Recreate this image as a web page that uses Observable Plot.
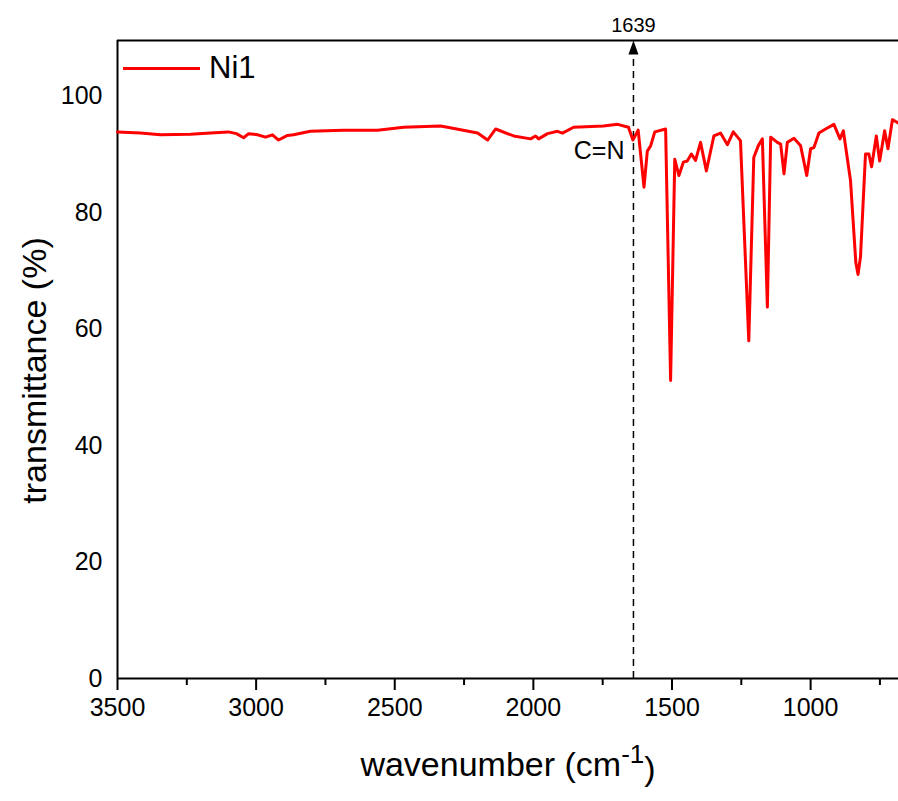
<!DOCTYPE html>
<html>
<head>
<meta charset="utf-8">
<script src="https://cdn.jsdelivr.net/npm/d3@7"></script>
<script src="https://cdn.jsdelivr.net/npm/@observablehq/plot@0.6"></script>
<style>
  html, body { margin: 0; padding: 0; background: #fff; overflow: hidden; }
  #wrap { position: relative; width: 898px; height: 801px; font-family: "Liberation Sans", Arial, sans-serif; }
  #legend { position: absolute; left: 123px; top: 50px; display: flex; align-items: center; font-size: 31px; color: #000; }
  #legend .swatch { width: 77px; height: 3px; background: #ff0000; margin-right: 9px; }
</style>
</head>
<body>
<div id="wrap"><div id="legend"><div class="swatch"></div><span>Ni1</span></div></div>
<script>
// ---- data ----
const seriesName = "Ni1";
const wavenumber = [
  3500, 3417, 3345, 3237, 3165, 3100, 3071, 3045, 3027, 2995, 2966, 2941, 2919, 2887, 2865, 2804,
  2685, 2562, 2468, 2335, 2310, 2201, 2165, 2136, 2071, 2010, 1992, 1981, 1949, 1913, 1895, 1855,
  1747, 1696, 1657, 1641, 1622, 1601, 1589, 1577, 1562, 1523, 1505, 1490, 1475, 1459, 1445, 1430,
  1415, 1397, 1376, 1349, 1325, 1300, 1279, 1253, 1223, 1205, 1189, 1174, 1156, 1144, 1120, 1108,
  1096, 1084, 1060, 1036, 1014, 1000, 988, 970, 946, 916, 894, 882, 856, 837, 829, 820, 802, 790,
  780, 763, 751, 733, 721, 705, 690, 683
];
const transmittance = [
  93.9, 93.7, 93.4, 93.5, 93.7, 93.9, 93.6, 92.9, 93.6, 93.4, 93.0, 93.4, 92.5, 93.3, 93.4, 94.0,
  94.2, 94.2, 94.7, 94.9, 94.7, 93.7, 92.5, 94.4, 93.2, 92.7, 93.2, 92.7, 93.6, 94.0, 93.7, 94.7,
  94.9, 95.2, 94.7, 92.5, 94.2, 84.4, 90.6, 91.5, 93.9, 94.4, 51.2, 89.2, 86.4, 88.7, 88.9, 90.1,
  89.0, 92.1, 87.2, 93.2, 93.7, 91.7, 93.9, 92.4, 58.0, 89.5, 91.5, 92.7, 63.8, 93.0, 92.1, 91.8,
  86.7, 92.1, 92.8, 91.5, 86.4, 91.0, 91.2, 93.7, 94.4, 95.2, 92.7, 94.1, 85.5, 71.5, 69.4, 72.5, 90.1, 90.1,
  87.9, 93.2, 88.9, 94.1, 91.0, 96.0, 95.6, 95.4
];
const xTicks = [3500, 3000, 2500, 2000, 1500, 1000];
const xMinorTicks = [3250, 2750, 2250, 1750, 1250, 750];
const yTicks = [0, 20, 40, 60, 80, 100];
const xDomain = [3500, 683];
const yDomain = [0, 109.6];
const annotation = [{x: 1639, label: "1639", bond: "C=N", bondY: 90.6}];
const xLabel = "wavenumber (cm";
const xLabelSup = "-1";
const yLabel = "transmittance (%)";

const data = wavenumber.map((w, i) => ({w, t: transmittance[i]}));

const arrowHead = {
  draw(context) {
    context.moveTo(0, 0);
    context.lineTo(-5, 14);
    context.lineTo(5, 14);
    context.closePath();
  }
};

const chart = Plot.plot({
  width: 898,
  height: 801,
  marginLeft: 117,
  marginRight: 0,
  marginTop: 40,
  marginBottom: 123,
  style: {fontFamily: "'Liberation Sans', Arial, sans-serif", fontSize: "25px", color: "#000", background: "#fff", overflow: "visible"},
  x: {domain: xDomain, label: null},
  y: {domain: yDomain, label: null},
  marks: [
    Plot.axisX(xMinorTicks, {tickSize: 7, tickFormat: () => "", strokeWidth: 2}),
    Plot.axisX({ticks: xTicks, tickSize: 12, tickPadding: 8, strokeWidth: 2, fontSize: 25, tickFormat: d => String(d)}),
    Plot.axisY({ticks: yTicks, tickSize: 0, tickPadding: 15, fontSize: 25, tickFormat: d => String(d)}),
    Plot.ruleY([yDomain[0]], {stroke: "#000", strokeWidth: 2}),
    Plot.ruleY([yDomain[1]], {stroke: "#000", strokeWidth: 2}),
    Plot.ruleX([xDomain[0]], {stroke: "#000", strokeWidth: 2}),
    Plot.ruleX(annotation, {x: "x", y1: yDomain[0], y2: yDomain[1] - 2.2, stroke: "#000", strokeWidth: 1.5, strokeDasharray: "7,5"}),
    Plot.dot(annotation, {x: "x", y: () => yDomain[1], symbol: arrowHead, fill: "#000", stroke: "none", r: 6}),
    Plot.text(annotation, {x: "x", y: () => yDomain[1], text: "label", dy: -15, fontSize: 20, fill: "#000"}),
    Plot.line(data, {x: "w", y: "t", stroke: "#ff0000", strokeWidth: 3, curve: "linear"}),
    Plot.text(annotation, {x: "x", y: "bondY", text: "bond", textAnchor: "end", dx: -9, fontSize: 25, fill: "#000"}),
    Plot.text([xLabel], {frameAnchor: "bottom", text: d => d, dy: 97, fontSize: 34, fill: "#000"}),
    Plot.text([yLabel], {frameAnchor: "left", text: d => d, textAnchor: "middle", rotate: -90, dx: -82, dy: 11, fontSize: 34, fill: "#000"})
  ]
});

// add the superscript to the x-axis label
d3.select(chart).selectAll("text").each(function() {
  if (this.textContent === xLabel) {
    const t = d3.select(this);
    t.text(null);
    t.append("tspan").text(xLabel);
    t.append("tspan").attr("dy", "-0.5em").attr("font-size", "26px").text(xLabelSup);
    t.append("tspan").attr("dy", "0.5em").text(")");
  }
});

document.getElementById("wrap").prepend(chart);
document.querySelector("#legend span").textContent = seriesName;
</script>
</body>
</html>
